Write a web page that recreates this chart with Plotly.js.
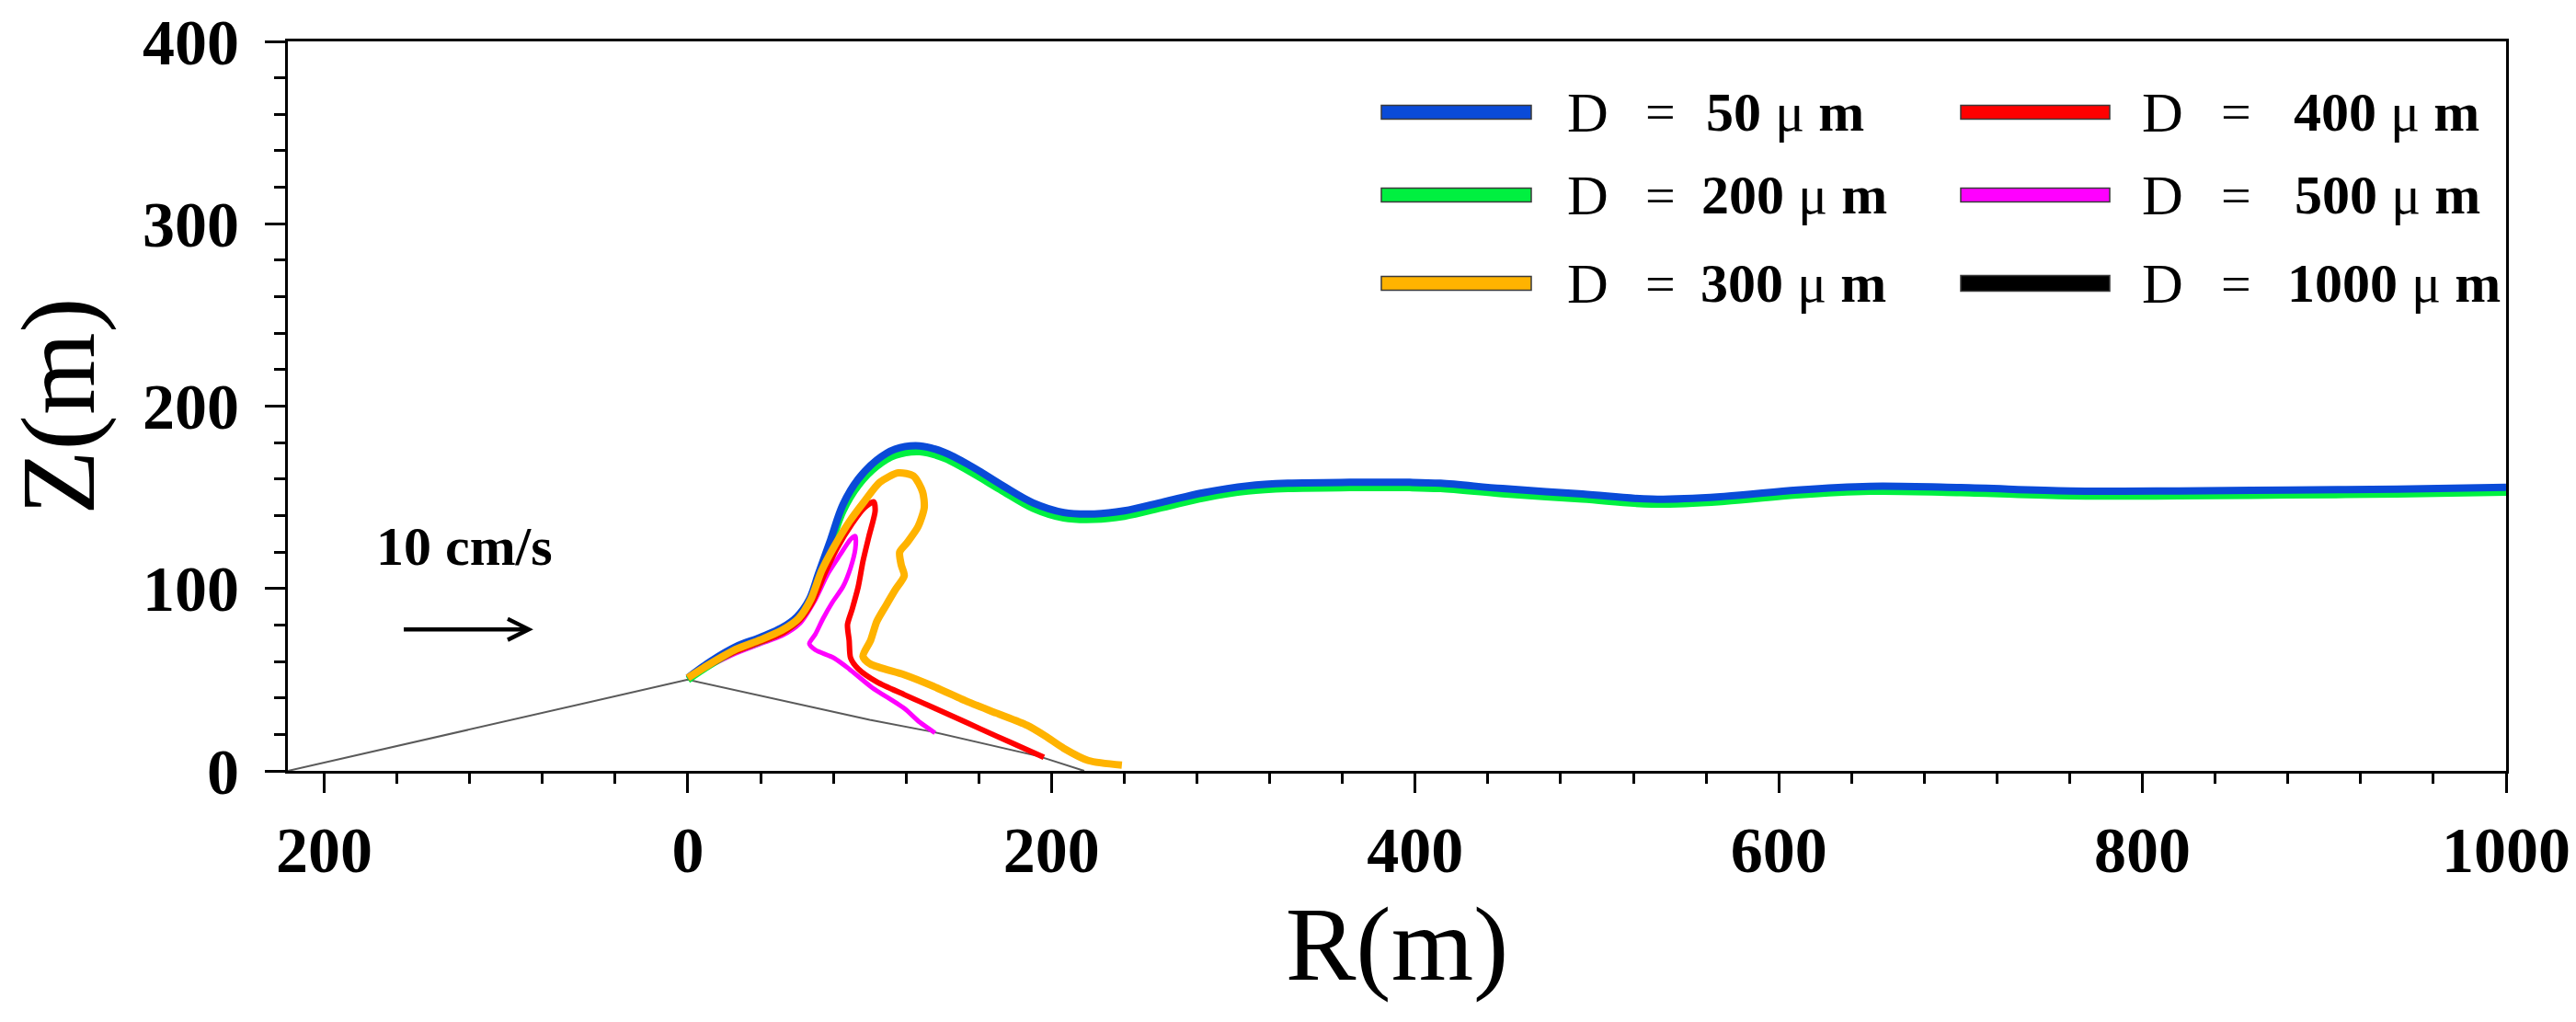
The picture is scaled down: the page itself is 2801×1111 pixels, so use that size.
<!DOCTYPE html>
<html>
<head>
<meta charset="utf-8">
<script src="https://cdn.plot.ly/plotly-3.0.1.min.js"></script>
<style>html,body{margin:0;padding:0;background:#fff;}</style>
</head>
<body>
<div id="chart" style="width:2801px;height:1111px;"></div>
<script>
// ---------- data (R in m, Z in m) ----------
const seriesNames = ['D = 50 μm', 'D = 200 μm', 'D = 300 μm', 'D = 400 μm', 'D = 500 μm', 'D = 1000 μm'];
const seriesColors = ['#0a4bd8', '#00f040', '#ffb300', '#ff0000', '#ff00ff', '#000000'];

const d50_r = [0, 12.8, 26.3, 39.8, 51.6, 60, 66.8, 71.8, 78.6, 85.3, 93.7, 103.9, 114, 127.5, 141, 156.1, 173, 189.8, 206.7, 223.6, 240, 262, 284, 308, 330, 364, 397, 414, 448, 492, 530, 570, 610, 650, 700, 760, 820, 880, 940, 1000];
const d50_z = [51, 60.2, 68, 73.2, 78.4, 84.5, 94, 108, 127, 146, 160, 170.4, 176.4, 178.2, 174.7, 166.9, 156.5, 147, 141.7, 140.9, 142.6, 147.6, 152.6, 156.3, 157.7, 158.2, 158.2, 157.7, 154.8, 151.8, 149, 150.5, 154, 156, 155.3, 153.5, 153.5, 154, 154.5, 155.5];

const d200_r = [0, 12.8, 26.3, 39.8, 51.6, 60, 66.8, 71.8, 78.6, 85.3, 93.7, 103.9, 114, 127.5, 141, 156.1, 173, 189.8, 206.7, 223.6, 240, 262, 284, 308, 330, 364, 397, 414, 448, 492, 530, 570, 610, 650, 700, 760, 820, 880, 940, 1000];
const d200_z = [50, 58.5, 66, 71, 76, 82, 91, 105, 124, 142.5, 156.5, 167, 173, 175, 171.5, 163.5, 153.5, 144, 138.7, 137.9, 139.6, 144.6, 149.7, 153.4, 154.8, 155.3, 155.3, 154.8, 152, 149, 146.3, 147.8, 151.3, 153.3, 152.6, 150.8, 150.8, 151.3, 151.8, 152.8];

const d300_r = [0, 12.8, 26.3, 39.8, 51.6, 60.9, 67.6, 73.5, 80.3, 88.7, 97.1, 105.5, 115.7, 124.1, 129.1, 130, 126.6, 120.7, 116.5, 117.3, 119, 114, 108.9, 103.9, 100.5, 96.3, 100.5, 119, 135.9, 152.8, 169.6, 186.5, 196.6, 206.7, 220.2, 238.7];
const d300_z = [51, 59, 66.6, 71.8, 77, 83.6, 94, 109.6, 122.7, 136.5, 147.8, 158.2, 163.4, 161.7, 153, 144.3, 133.9, 125.3, 120, 113.1, 107, 99.2, 90.6, 81.9, 71.5, 62.8, 58.5, 52.7, 46, 38.4, 31.7, 25, 19.1, 12.4, 5.7, 3.2];

const d400_r = [0, 12.8, 26.3, 39.8, 51.6, 61.7, 68.5, 75.2, 81.9, 90.4, 97.1, 102.2, 103, 99.6, 96.3, 93.7, 90.4, 87.8, 88.7, 89.5, 93.7, 104, 119, 135.9, 152.8, 169.6, 186.5, 195.8];
const d400_z = [51, 58.5, 65.4, 70.6, 75.3, 82.8, 92.3, 107.9, 121.8, 135.7, 144.3, 147.5, 142.6, 128.7, 114.9, 101, 88.8, 80.2, 71.5, 61.9, 55.9, 48.7, 41.8, 34.3, 26.7, 19.1, 11.6, 7.4];

const d500_r = [0, 12.8, 26.3, 39.8, 51.6, 61.7, 70.1, 76.9, 83.6, 89.5, 92.1, 92.1, 89.5, 85.3, 79.4, 74.4, 70.1, 66.8, 70.1, 80.3, 88.7, 101.3, 119, 127.5, 135.9];
const d500_z = [51, 57.9, 64.5, 69.7, 74.1, 81, 94, 107.9, 118.3, 127, 128.7, 121.8, 111.4, 101, 92.3, 83.6, 74.9, 69.7, 66.3, 61.9, 55.9, 45.7, 34.3, 26.7, 20.8];

const d1000_r = [0];
const d1000_z = [50];

// outline of the source cone
const cone_r = [-220, 0, 100, 134, 193, 218];
const cone_z = [0, 50, 28, 21.5, 8, 0];

// axis ticks
const xTickVals = [-200, 0, 200, 400, 600, 800, 1000];
const xTickText = ['200', '0', '200', '400', '600', '800', '1000'];
const yTickVals = [0, 100, 200, 300, 400];
const yTickText = ['0', '100', '200', '300', '400'];

// ---------- layout helpers ----------
const W = 2801, H = 1111;
const M = {l: 313, r: 76, t: 45, b: 273};
const PW = W - M.l - M.r, PH = H - M.t - M.b;
const px = v => (v - M.l) / PW;          // page x -> paper
const py = v => (H - M.b - v) / PH;      // page y -> paper

const FONT = 'Liberation Serif, Times New Roman, serif';

function trace(r, z, color, width, name, smooth) {
  return {
    x: r, y: z, type: 'scatter', mode: 'lines', name: name,
    line: {color: color, width: width, shape: 'spline', smoothing: smooth},
    showlegend: false, hoverinfo: 'skip'
  };
}

const data = [
  {x: cone_r, y: cone_z, type: 'scatter', mode: 'lines', line: {color: '#5a5a5a', width: 2}, showlegend: false, hoverinfo: 'skip', name: 'cone'},
  trace(d1000_r, d1000_z, seriesColors[5], 8, seriesNames[5], 0.7),
  trace(d500_r, d500_z, seriesColors[4], 5, seriesNames[4], 0.7),
  trace(d200_r, d200_z, seriesColors[1], 8, seriesNames[1], 1.0),
  trace(d50_r, d50_z, seriesColors[0], 8, seriesNames[0], 1.0),
  trace(d400_r, d400_z, seriesColors[3], 6, seriesNames[3], 0.7),
  trace(d300_r, d300_z, seriesColors[2], 8, seriesNames[2], 0.7)
];

// ---------- custom legend (2 columns x 3 rows) ----------
const legendRows = [122, 212, 308];
const legendCols = [
  {sw0: 1502, sw1: 1665, d: 1702, eq: 1787},
  {sw0: 2132, sw1: 2294, d: 2327, eq: 2413}
];
const legendItems = [
  {col: 0, row: 0, color: seriesColors[0], value: '50', vx: 1853, h: 15},
  {col: 0, row: 1, color: seriesColors[1], value: '200', vx: 1848, h: 15},
  {col: 0, row: 2, color: seriesColors[2], value: '300', vx: 1847, h: 15},
  {col: 1, row: 0, color: seriesColors[3], value: '400', vx: 2492, h: 15},
  {col: 1, row: 1, color: seriesColors[4], value: '500', vx: 2493, h: 15},
  {col: 1, row: 2, color: seriesColors[5], value: '1000', vx: 2485, h: 17}
];

const shapes = [];
const annotations = [];
legendItems.forEach(it => {
  const c = legendCols[it.col];
  const yc = legendRows[it.row];
  shapes.push({
    type: 'rect', xref: 'paper', yref: 'paper',
    x0: px(c.sw0), x1: px(c.sw1), y0: py(yc + it.h / 2), y1: py(yc - it.h / 2),
    fillcolor: it.color, line: {color: '#3a3a3a', width: 1.5}
  });
  annotations.push({
    xref: 'paper', yref: 'paper', x: px(c.d), y: py(yc), xanchor: 'left', yanchor: 'middle',
    text: 'D', showarrow: false, font: {family: FONT, size: 62, color: '#000'}
  });
  annotations.push({
    xref: 'paper', yref: 'paper', x: px(c.eq), y: py(yc), xanchor: 'left', yanchor: 'middle',
    text: '=', showarrow: false, font: {family: FONT, size: 58, color: '#000'}
  });
  annotations.push({
    xref: 'paper', yref: 'paper', x: px(it.vx), y: py(yc), xanchor: 'left', yanchor: 'middle',
    text: '<b>' + it.value + '</b> μ <b>m</b>', showarrow: false, font: {family: FONT, size: 60, color: '#000'}
  });
});

// wind arrow + label
annotations.push({
  xref: 'x', yref: 'y', x: -123, y: 123, text: '<b>10 cm/s</b>', showarrow: false,
  font: {family: FONT, size: 60, color: '#000'}, xanchor: 'center', yanchor: 'middle'
});
annotations.push({
  xref: 'x', yref: 'y', axref: 'x', ayref: 'y', x: -85, y: 77.6, ax: -157, ay: 77.6,
  text: '', showarrow: true, arrowhead: 5, arrowsize: 1, arrowwidth: 4.5, arrowcolor: '#000', standoff: 0
});

const tickFont = {family: FONT, size: 70, color: '#000', weight: 'bold'};

const layout = {
  width: W, height: H,
  margin: M,
  paper_bgcolor: '#fff', plot_bgcolor: '#fff',
  font: {family: FONT, color: '#000'},
  showlegend: false,
  xaxis: {
    range: [-220, 1000], showgrid: false, zeroline: false,
    showline: true, linecolor: '#000', linewidth: 3, mirror: true,
    tickmode: 'array', tickvals: xTickVals, ticktext: xTickText,
    ticks: 'outside', ticklen: 21, tickwidth: 3, tickcolor: '#000',
    minor: {dtick: 40, tick0: 0, ticks: 'outside', ticklen: 11, tickwidth: 3, tickcolor: '#000', showgrid: false},
    tickfont: tickFont, ticklabelstandoff: 2,
    title: {text: 'R(m)', font: {family: FONT, size: 115, color: '#000'}, standoff: 18},
    automargin: false
  },
  yaxis: {
    range: [0, 400], showgrid: false, zeroline: false,
    showline: true, linecolor: '#000', linewidth: 3, mirror: true,
    tickmode: 'array', tickvals: yTickVals, ticktext: yTickText,
    ticks: 'outside', ticklen: 22, tickwidth: 3, tickcolor: '#000',
    minor: {dtick: 20, tick0: 0, ticks: 'outside', ticklen: 12, tickwidth: 3, tickcolor: '#000', showgrid: false},
    tickfont: tickFont, ticklabelstandoff: 14,
    title: {text: 'Z(m)', font: {family: FONT, size: 115, color: '#000'}, standoff: 30},
    automargin: false
  },
  shapes: shapes,
  annotations: annotations
};

Plotly.newPlot('chart', data, layout, {displayModeBar: false, staticPlot: true});
</script>
</body>
</html>
